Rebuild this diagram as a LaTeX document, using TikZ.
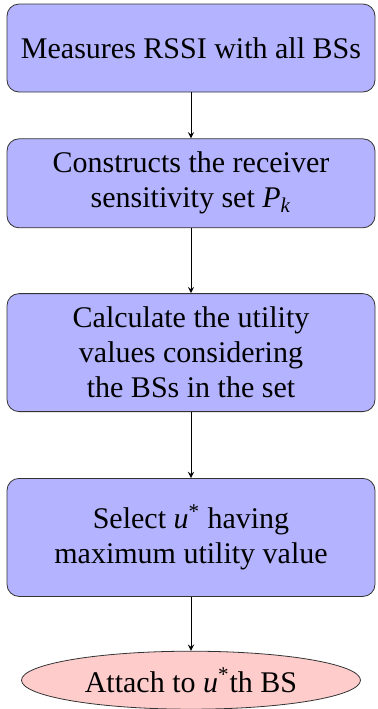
\documentclass[tikz,border=0pt]{standalone}
\usepackage{fontspec}
\setmainfont{Liberation Serif}
\usepackage{tikz}
\usetikzlibrary{shapes,arrows,positioning}
\definecolor{boxblue}{RGB}{179,179,255}
\definecolor{endred}{RGB}{255,204,204}

\begin{document}
\begin{tikzpicture}[auto,
    block/.style={rectangle, rounded corners=6pt, draw=black!80, fill=boxblue, minimum width=184pt, minimum height=44pt, text centered, align=center, font=\fontsize{15}{17.5}\selectfont},
    finish/.style={ellipse, draw=black!80, fill=endred, minimum width=169.5pt, minimum height=29pt, inner sep=1pt, font=\fontsize{15}{17.5}\selectfont},
    arrow/.style={-stealth, thin}]
  \useasboundingbox (0,0) rectangle (188.5pt,-354.5pt);
  \node[block] (measure) at (95.5pt,-24pt) {Measures RSSI with all BSs};
  \node[block, minimum height=44.5pt, below=23pt of measure] (construct) {Constructs the receiver\\sensitivity set \textit{P}\textsubscript{\textit{k}}};
  \node[block, minimum height=59pt, below=32.5pt of construct] (calc) {Calculate the utility\\values considering\\the BSs in the set};
  \node[block, minimum height=59pt, below=33pt of calc] (select) {Select \textit{u}\textsuperscript{*} having\\maximum utility value};
  \node[finish, below=27pt of select] (attach) {Attach to \textit{u}\textsuperscript{*}th BS};
  \draw[arrow] (measure) -- (construct);
  \draw[arrow] (construct) -- (calc);
  \draw[arrow] (calc) -- (select);
  \draw[arrow] (select) -- (attach);
\end{tikzpicture}
\end{document}
